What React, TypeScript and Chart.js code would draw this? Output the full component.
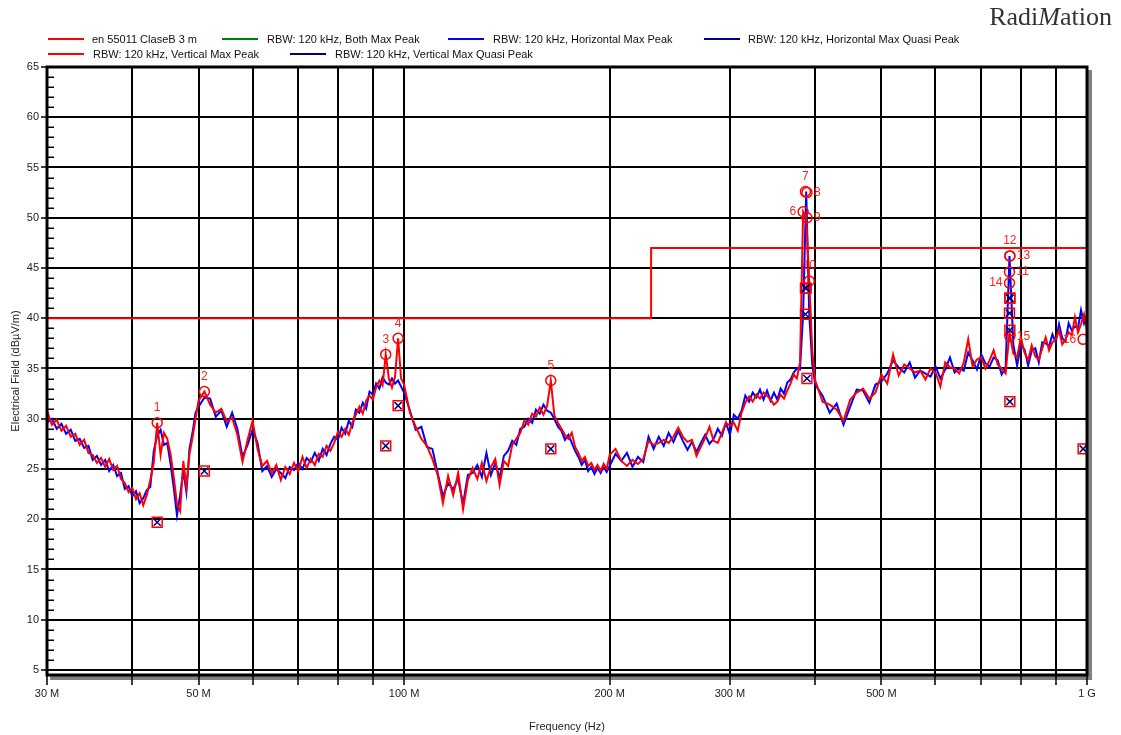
import React, { useEffect, useRef } from "react";
import { Chart, registerables } from "chart.js";

Chart.register(...registerables);

// ---------- data (MHz / dBµV/m) ----------
const freqMHz = [
  30, 30.5, 31, 31.5, 32, 32.5, 33, 33.5, 34, 34.5, 35, 35.5, 36, 36.5, 37, 37.5, 38, 38.5, 39, 39.5,
  40, 40.5, 41, 41.5, 42, 42.5, 43, 43.5, 44, 44.5, 45, 45.5, 46, 46.5, 47, 47.5, 48, 48.5, 49, 49.5,
  50, 51, 52, 53, 54, 55, 56, 57, 58, 59, 60, 61, 62, 63, 64, 65, 66, 67, 68, 69,
  70, 71, 72, 73, 74, 75, 76, 77, 78, 79, 80, 81, 82, 83, 84, 85, 86, 87, 88, 89,
  90, 91, 92, 93, 94, 95, 96, 97, 98, 99,
  100, 102, 104, 106, 108, 110, 112, 114, 116, 118, 120, 122, 124, 126, 128, 130, 132, 134, 136, 138,
  140, 142, 144, 146, 148, 150, 152, 154, 156, 158, 160, 162, 164, 166, 168, 170, 172, 174, 176, 178,
  180, 182, 184, 186, 188, 190, 192, 194, 196, 198,
  200, 204, 208, 212, 216, 220, 224, 228, 232, 236, 240, 244, 248, 252, 256, 260, 264, 268, 272, 276,
  280, 284, 288, 292, 296, 300, 304, 308, 312, 316, 320, 324, 328, 332, 336, 340, 344, 348, 352, 356,
  360, 364, 368, 372, 376, 380, 384, 388, 392, 396,
  400, 410, 420, 430, 440, 450, 460, 470, 480, 490, 500, 510, 520, 530, 540, 550, 560, 570, 580, 590,
  600, 610, 620, 630, 640, 650, 660, 670, 680, 690, 700, 710, 720, 730, 740, 750, 760, 770, 780, 790,
  800, 810, 820, 830, 840, 850, 860, 870, 880, 890, 900, 910, 920, 930, 940, 950, 960, 970, 980, 990,
  1000,
];

const verticalMaxPeak = [
  30.8, 29.4, 29.9, 28.8, 29.3, 28.2, 28.5, 27.4, 27.9, 26.6, 26.4, 25.6, 26.1, 25.2, 26.0, 24.9, 25.3, 24.0, 23.6, 22.7,
  23.1, 22.0, 22.6, 21.4, 22.4, 23.9, 25.6, 29.6, 26.4, 28.6, 28.0, 26.5, 24.2, 21.5, 20.8, 25.8, 23.2, 26.5, 28.1, 30.0,
  31.8, 32.7, 31.4, 30.6, 31.0, 29.7, 30.1, 28.4, 25.7, 27.9, 29.8, 27.0, 25.3, 25.8, 24.6, 25.4, 23.9, 25.2, 24.5, 25.6,
  24.8, 26.2, 25.1, 26.0, 25.4, 26.5, 26.2, 27.3, 26.8, 27.6, 28.7, 28.2, 29.0, 28.4, 29.6, 30.4, 31.2, 30.5, 31.8, 32.3,
  31.9, 33.1, 33.8, 33.3, 36.4, 34.0, 33.1, 34.2, 38.0, 34.0,
  33.4, 30.6, 29.2, 28.0, 27.3, 26.0, 24.4, 21.6, 24.3, 22.4, 24.6, 21.0, 23.9, 25.1, 24.0, 25.6, 23.8, 25.2, 26.0, 23.4,
  25.8, 25.3, 27.4, 28.0, 28.6, 29.8, 29.4, 30.5, 30.2, 31.1, 30.4, 31.3, 33.8, 30.3, 29.6, 29.0, 28.4, 28.0, 28.6, 27.2,
  26.6, 25.8, 26.2, 25.3, 25.6, 24.9, 25.4, 24.8, 25.5, 25.0,
  26.4, 27.0, 25.8, 25.3, 25.9, 25.5, 26.0, 27.8, 27.4, 27.6, 27.9, 27.6, 28.2, 29.1, 28.2, 27.7, 27.9, 26.3, 27.2, 28.1,
  29.2, 27.8, 27.6, 28.6, 29.6, 29.3, 29.6, 28.8, 30.6, 31.6, 32.2, 31.7, 32.4, 32.0, 32.6, 32.3, 31.9, 31.4, 31.7, 32.4,
  32.0, 32.8, 33.5, 34.4, 34.0, 35.6, 50.6, 50.0, 43.7, 36.8,
  33.8, 31.7, 31.4, 30.9, 29.8, 31.9, 32.6, 33.0, 32.0, 32.6, 34.4, 33.5, 36.4, 34.3, 35.4, 35.0, 34.6, 34.8, 33.9, 35.0,
  34.6, 33.2, 35.6, 35.1, 35.0, 34.5, 35.6, 37.9, 35.2, 35.9, 36.1, 35.0, 35.8, 36.8, 35.4, 35.0, 34.5, 38.6, 36.5, 36.1,
  38.1, 36.6, 35.8, 37.3, 36.2, 35.9, 37.0, 38.1, 36.8, 37.6, 37.9, 38.8, 37.4, 37.9, 38.6, 38.3, 40.1, 38.6, 39.4, 40.4,
  38.8,
];

const horizontalMaxPeak = [
  29.6, 30.0, 29.0, 29.5, 28.5, 28.9, 27.8, 28.0, 27.1, 27.3, 25.9, 26.3, 25.4, 25.9, 24.8, 25.4, 24.3, 24.6, 23.0, 23.3,
  22.3, 22.8, 21.6, 22.1, 22.9, 23.2, 26.8, 28.3, 28.9, 27.4, 27.6, 25.5, 23.1, 20.4, 22.4, 24.8, 22.7, 27.0, 28.6, 30.6,
  31.2, 32.1, 32.0, 30.2, 30.8, 29.2, 30.6, 29.0, 26.2, 27.4, 28.9, 27.6, 24.8, 25.3, 24.2, 25.0, 24.6, 24.1, 25.2, 24.9,
  25.6, 25.0, 26.1, 25.7, 26.6, 25.8, 27.0, 26.4, 27.5, 28.2, 27.9, 29.1, 28.5, 29.8, 29.2, 30.9, 30.6, 31.6, 31.0, 32.7,
  32.4, 33.5, 33.0, 34.1, 33.6, 33.4, 34.0, 33.5, 33.8, 33.2,
  32.6, 30.8, 28.9, 29.2, 27.2, 27.0, 24.6, 22.3, 23.6, 23.0, 24.0, 21.5, 24.4, 24.6, 25.4, 24.2, 26.6, 24.4, 25.6, 24.1,
  26.3, 26.8, 27.8, 27.4, 29.0, 29.2, 30.0, 29.6, 30.9, 30.5, 31.4, 30.8, 30.6, 30.0, 29.2, 28.8, 27.9, 28.4, 27.6, 26.8,
  26.2, 25.4, 25.9, 24.8, 25.2, 24.5, 25.1, 24.6, 25.2, 24.7,
  25.3, 26.5, 25.8, 26.6, 25.2, 26.2, 25.7, 28.2, 27.0, 28.2, 27.3, 28.6, 27.7, 28.8, 27.8, 26.9, 27.7, 26.7, 27.6, 28.4,
  27.5, 28.0, 29.0, 28.3, 29.6, 28.4, 30.4, 30.0, 30.8, 32.3, 31.7, 32.6, 32.1, 32.9, 31.9, 32.8, 31.8, 32.6, 31.9, 33.0,
  32.5, 33.6, 33.9, 34.6, 35.0, 34.9, 40.5, 52.6, 40.4, 35.4,
  33.4, 32.3, 30.6, 31.5, 29.4, 31.2, 32.9, 32.8, 31.6, 33.4, 33.7, 34.5, 35.8, 35.1, 34.6, 35.6, 34.1, 34.8, 34.5, 34.2,
  35.2, 34.0, 34.9, 36.1, 34.6, 35.0, 34.8, 36.6, 35.8, 34.9, 36.4, 35.5, 35.2, 36.1, 35.8, 34.4, 35.1, 46.2, 37.4, 35.3,
  37.3, 36.9, 35.3, 36.8, 37.0, 35.6, 37.6, 37.5, 37.2, 38.4, 37.6, 39.4, 38.0, 37.7, 39.5, 38.8, 39.2, 39.0, 40.8, 39.5,
  40.4,
];

const limitFreq = [30, 230, 230, 1000];
const limitLevel = [40, 40, 47, 47];

const peakFreq = [43.5, 51, 94, 98, 164, 384, 387, 389, 389, 392, 770, 771, 771, 770, 771, 987];
const peakLevel = [29.6, 32.7, 36.4, 38.0, 33.8, 50.6, 52.6, 52.5, 50.0, 43.7, 44.6, 46.2, 46.2, 43.5, 38.2, 37.9];
const peakNumber = ["1", "2", "3", "4", "5", "6", "7", "8", "9", "10", "11", "12", "13", "14", "15", "16"];
const peakLabelSide = ["top", "top", "top", "top", "top", "left", "top", "right", "right", "top", "right", "top", "right", "left", "right", "left"];

const hqpFreq = [43.5, 51, 94, 98, 164, 387, 387, 771, 770, 987];
const hqpLevel = [19.7, 24.8, 27.3, 31.3, 27.0, 43.0, 40.4, 42.0, 40.5, 27.0];
const vqpFreq = [388, 389, 771, 771, 771];
const vqpLevel = [43.0, 34.0, 42.0, 38.8, 31.7];

const xTickValues = [30, 40, 50, 60, 70, 80, 90, 100, 200, 300, 400, 500, 600, 700, 800, 900, 1000];
const xTickLabels = ["30 M", "", "50 M", "", "", "", "", "100 M", "200 M", "300 M", "", "500 M", "", "", "", "", "1 G"];
const yTickValues = [5, 10, 15, 20, 25, 30, 35, 40, 45, 50, 55, 60, 65];

const legendItems = [
  { text: "en 55011 ClaseB 3 m", color: "#ff0000", row: 0, lineX: 48, textX: 92 },
  { text: "RBW: 120 kHz, Both Max Peak", color: "#008000", row: 0, lineX: 222, textX: 267 },
  { text: "RBW: 120 kHz, Horizontal Max Peak", color: "#0000ff", row: 0, lineX: 448, textX: 493 },
  { text: "RBW: 120 kHz, Horizontal Max Quasi Peak", color: "#000080", row: 0, lineX: 704, textX: 748 },
  { text: "RBW: 120 kHz, Vertical Max Peak", color: "#ff0000", row: 1, lineX: 48, textX: 93 },
  { text: "RBW: 120 kHz, Vertical Max Quasi Peak", color: "#000080", row: 1, lineX: 290, textX: 335 },
];

const FONT = '"Liberation Sans", Arial, sans-serif';

const xy = (fs: number[], vs: number[]) => fs.map((f, i) => ({ x: f, y: vs[i] }));

const decorations = {
  id: "decorations",
  beforeDraw(chart: any) {
    const { ctx, chartArea } = chart;
    const { left, right, top, bottom } = chartArea;
    ctx.save();
    ctx.fillStyle = "#808080";
    ctx.fillRect(left + 3, bottom + 1, right - left + 2, 4);
    ctx.fillRect(right + 1, top + 3, 4, bottom - top + 2);
    ctx.restore();
  },
  afterDatasetsDraw(chart: any) {
    const { ctx, chartArea, scales } = chart;
    const { left, right, top, bottom } = chartArea;
    const x = scales.x;
    const y = scales.y;
    ctx.save();
    // frame
    ctx.strokeStyle = "#000";
    ctx.lineWidth = 3;
    ctx.strokeRect(left, top, right - left, bottom - top);
    // inner minor ticks on the value axis
    ctx.lineWidth = 1.5;
    for (let v = Math.ceil(y.min); v <= y.max; v++) {
      if (v % 5 === 0) continue;
      const py = Math.round(y.getPixelForValue(v)) + 0.25;
      ctx.beginPath();
      ctx.moveTo(left, py);
      ctx.lineTo(left + 7, py);
      ctx.stroke();
    }
    // peak numbers
    ctx.fillStyle = "#ff2020";
    ctx.font = `12px ${FONT}`;
    ctx.textBaseline = "middle";
    peakFreq.forEach((f, i) => {
      const px = x.getPixelForValue(f);
      const py = y.getPixelForValue(peakLevel[i]);
      const side = peakLabelSide[i];
      if (side === "top") {
        ctx.textAlign = "center";
        ctx.fillText(peakNumber[i], px, py - 15);
      } else if (side === "left") {
        ctx.textAlign = "right";
        ctx.fillText(peakNumber[i], px - 7, py);
      } else {
        ctx.textAlign = "left";
        ctx.fillText(peakNumber[i], px + 7, py);
      }
    });
    ctx.restore();
  },
};

export default function App() {
  const ref = useRef<HTMLCanvasElement>(null);

  useEffect(() => {
    const canvas = ref.current;
    if (!canvas) return;
    const tickFont = { family: FONT, size: 11 };
    const chart = new Chart(canvas, {
      type: "line",
      data: {
        datasets: [
          {
            label: "Horizontal Max Quasi Peak",
            data: xy(hqpFreq, hqpLevel),
            showLine: false,
            pointStyle: "crossRot",
            pointRadius: 5,
            borderColor: "#000080",
            backgroundColor: "#000080",
            borderWidth: 1.5,
            order: 0,
          },
          {
            label: "Vertical Max Quasi Peak",
            data: xy(vqpFreq, vqpLevel),
            showLine: false,
            pointStyle: "crossRot",
            pointRadius: 5,
            borderColor: "#000080",
            backgroundColor: "#000080",
            borderWidth: 1.5,
            order: 0,
          },
          {
            label: "hqp box",
            data: xy(hqpFreq, hqpLevel),
            showLine: false,
            pointStyle: "rect",
            pointRadius: 7,
            borderColor: "#ff0000",
            backgroundColor: "rgba(0,0,0,0)",
            borderWidth: 1.5,
            order: 1,
          },
          {
            label: "vqp box",
            data: xy(vqpFreq, vqpLevel),
            showLine: false,
            pointStyle: "rect",
            pointRadius: 7,
            borderColor: "#ff0000",
            backgroundColor: "rgba(0,0,0,0)",
            borderWidth: 1.5,
            order: 1,
          },
          {
            label: "peaks",
            data: xy(peakFreq, peakLevel),
            showLine: false,
            pointStyle: "circle",
            pointRadius: 5,
            borderColor: "#ff0000",
            backgroundColor: "rgba(0,0,0,0)",
            borderWidth: 1.5,
            order: 2,
          },
          {
            label: "en 55011 ClaseB 3 m",
            data: xy(limitFreq, limitLevel),
            borderColor: "#ff0000",
            borderWidth: 2,
            pointRadius: 0,
            order: 3,
          },
          {
            label: "RBW: 120 kHz, Vertical Max Peak",
            data: xy(freqMHz, verticalMaxPeak),
            borderColor: "#ff0000",
            borderWidth: 2,
            pointRadius: 0,
            order: 4,
          },
          {
            label: "RBW: 120 kHz, Horizontal Max Peak",
            data: xy(freqMHz, horizontalMaxPeak),
            borderColor: "#0000ff",
            borderWidth: 2,
            pointRadius: 0,
            order: 5,
          },
        ],
      },
      options: {
        responsive: false,
        animation: false,
        events: [],
        layout: { padding: { left: 0, right: 34, top: 67, bottom: 0 } },
        plugins: {
          legend: { display: false },
          title: { display: false },
          tooltip: { enabled: false },
        },
        scales: {
          x: {
            type: "logarithmic",
            min: 30,
            max: 1000,
            afterBuildTicks: (s: any) => {
              s.ticks = xTickValues.map((v) => ({ value: v }));
            },
            afterFit: (s: any) => {
              s.height = 60;
            },
            grid: {
              color: "#000",
              lineWidth: 2,
              drawTicks: true,
              tickLength: 10,
              tickColor: "#000",
              tickWidth: 1.5,
            },
            border: { display: false },
            ticks: {
              autoSkip: false,
              maxRotation: 0,
              minRotation: 0,
              padding: 2,
              color: "#222",
              font: tickFont,
              callback: (_v: any, i: number) => xTickLabels[i],
            },
            title: {
              display: true,
              text: "Frequency (Hz)",
              color: "#222",
              font: tickFont,
              padding: { top: 0, bottom: 1 },
            },
          },
          y: {
            type: "linear",
            min: 4.5,
            max: 65,
            afterBuildTicks: (s: any) => {
              s.ticks = yTickValues.map((v) => ({ value: v }));
            },
            afterFit: (s: any) => {
              s.width = 47;
            },
            grid: {
              color: "#000",
              lineWidth: 2,
              drawTicks: true,
              tickLength: 6,
              tickColor: "#000",
              tickWidth: 1.5,
            },
            border: { display: false },
            ticks: {
              padding: 2,
              color: "#222",
              font: tickFont,
              callback: (v: any) => String(v),
            },
            title: {
              display: true,
              text: "Electrical Field (dBµV/m)",
              color: "#222",
              font: tickFont,
              padding: { top: 9.4, bottom: 0 },
            },
          },
        },
      } as any,
      plugins: [decorations],
    } as any);
    return () => chart.destroy();
  }, []);

  return (
    <div
      style={{
        position: "absolute",
        left: 0,
        top: 0,
        width: 1121,
        height: 735,
        background: "#fff",
        fontFamily: FONT,
      }}
    >
      <canvas ref={ref} width={1121} height={735} style={{ position: "absolute", left: 0, top: 0 }} />
      {legendItems.map((it, i) => {
        const cy = it.row === 0 ? 39 : 54;
        return (
          <React.Fragment key={i}>
            <div
              style={{
                position: "absolute",
                left: it.lineX,
                top: cy - 1,
                width: 36,
                height: 2,
                background: it.color,
              }}
            />
            <div
              style={{
                position: "absolute",
                left: it.textX,
                top: cy - 7,
                fontSize: 11,
                lineHeight: "14px",
                color: "#111",
                whiteSpace: "nowrap",
              }}
            >
              {it.text}
            </div>
          </React.Fragment>
        );
      })}
      <div
        style={{
          position: "absolute",
          right: 9,
          top: 2,
          fontFamily: '"Liberation Serif", "Times New Roman", serif',
          fontSize: 26,
          lineHeight: "30px",
          color: "#333",
          whiteSpace: "nowrap",
        }}
      >
        Radi<i>M</i>ation
      </div>
    </div>
  );
}
